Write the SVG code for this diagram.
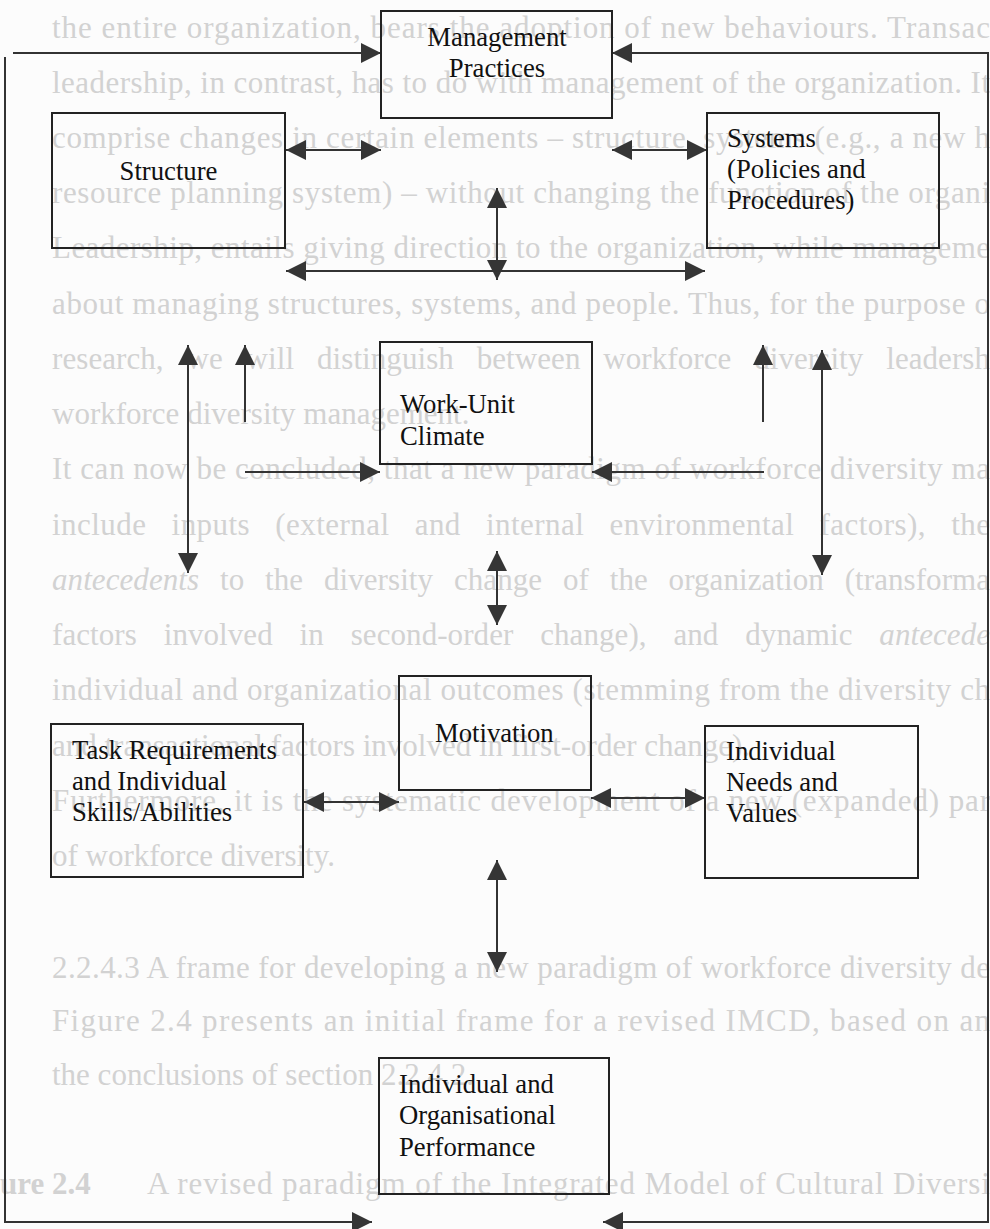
<svg xmlns="http://www.w3.org/2000/svg" width="990" height="1229" viewBox="0 0 990 1229">
<style>
.bg{font-family:"Liberation Serif","Times New Roman",serif;font-size:31px;fill:#d2d2d2}
.bgb{font-weight:bold}
.it{font-style:italic}
.box{fill:none;stroke:#222;stroke-width:2}
.lbl{font-family:"Liberation Serif","Times New Roman",serif;font-size:26.7px;fill:#111}
.c{fill:none;stroke:#333;stroke-width:2}
</style>
<defs>
<marker id="arr" viewBox="0 0 20 20" refX="20" refY="10" markerWidth="20" markerHeight="20" markerUnits="userSpaceOnUse" orient="auto-start-reverse">
<path d="M0,0 L20,10 L0,20 Z" fill="#353535"/>
</marker>
</defs>
<rect x="0" y="0" width="990" height="1229" fill="#fcfcfc"/>
<g id="background-text" class="bg">
<text x="52" y="38" textLength="938" lengthAdjust="spacing">the entire organization, bears the adoption of new behaviours. Transac</text>
<text x="52" y="93" textLength="938" lengthAdjust="spacing">leadership, in contrast, has to do with management of the organization. It</text>
<text x="52" y="148" textLength="938" lengthAdjust="spacing">comprise changes in certain elements – structure, systems (e.g., a new h</text>
<text x="52" y="203" textLength="938" lengthAdjust="spacing">resource planning system) – without changing the function of the organi</text>
<text x="52" y="258" textLength="938" lengthAdjust="spacing">Leadership, entails giving direction to the organization, while manageme</text>
<text x="52" y="314" textLength="938" lengthAdjust="spacing">about managing structures, systems, and people. Thus, for the purpose o</text>
<text x="52" y="369" word-spacing="15" textLength="938" lengthAdjust="spacing">research, we will distinguish between workforce diversity leadersh</text>
<text x="52" y="424">workforce diversity management.</text>
<text x="52" y="479" textLength="938" lengthAdjust="spacing">It can now be concluded, that a new paradigm of workforce diversity ma</text>
<text x="52" y="535" word-spacing="17" textLength="938" lengthAdjust="spacing">include inputs (external and internal environmental factors), the</text>
<text x="52" y="590" word-spacing="13" textLength="938" lengthAdjust="spacing"><tspan class="it">antecedents</tspan> to the diversity change of the organization (transforma</text>
<text x="52" y="645" word-spacing="19" textLength="938" lengthAdjust="spacing">factors involved in second-order change), and dynamic <tspan class="it">antecede</tspan></text>
<text x="52" y="700" textLength="938" lengthAdjust="spacing">individual and organizational outcomes (stemming from the diversity ch</text>
<text x="52" y="756">and transactional factors involved in first-order change).</text>
<text x="52" y="811" textLength="938" lengthAdjust="spacing">Furthermore, it is the systematic development of a new (expanded) par</text>
<text x="52" y="866">of workforce diversity.</text>
<text x="52" y="978" textLength="938" lengthAdjust="spacing">2.2.4.3 A frame for developing a new paradigm of workforce diversity de</text>
<text x="52" y="1031" textLength="938" lengthAdjust="spacing">Figure 2.4 presents an initial frame for a revised IMCD, based on an</text>
<text x="52" y="1085">the conclusions of section 2.2.4.2.</text>
<text x="0" y="1194" class="bgb">ure 2.4</text>
<text x="147" y="1194" textLength="843" lengthAdjust="spacing">A revised paradigm of the Integrated Model of Cultural Diversi</text>
</g>
<g id="connectors">
<path class="c" d="M13,53 L381,53" marker-end="url(#arr)"/>
<path class="c" d="M5,57 L5,1222 L372,1222" marker-end="url(#arr)" stroke-width="2.5"/>
<path class="c" d="M603,1222 L988,1222 L988,53 L612,53" marker-start="url(#arr)" marker-end="url(#arr)" stroke-width="2.5"/>
<path class="c" d="M286,150 L381,150" marker-start="url(#arr)" marker-end="url(#arr)"/>
<path class="c" d="M612,150 L707,150" marker-start="url(#arr)" marker-end="url(#arr)"/>
<path class="c" d="M497,188 L497,280" marker-start="url(#arr)" marker-end="url(#arr)"/>
<path class="c" d="M286,271 L705,271" marker-start="url(#arr)" marker-end="url(#arr)"/>
<path class="c" d="M245,422 L245,345" marker-end="url(#arr)"/>
<path class="c" d="M763,422 L763,345" marker-end="url(#arr)"/>
<path class="c" d="M188,345 L188,573" marker-start="url(#arr)" marker-end="url(#arr)"/>
<path class="c" d="M822,350 L822,575" marker-start="url(#arr)" marker-end="url(#arr)"/>
<path class="c" d="M245,472 L380,472" marker-end="url(#arr)"/>
<path class="c" d="M764,472 L592,472" marker-end="url(#arr)"/>
<path class="c" d="M497,551 L497,625" marker-start="url(#arr)" marker-end="url(#arr)"/>
<path class="c" d="M304,802 L399,802" marker-start="url(#arr)" marker-end="url(#arr)"/>
<path class="c" d="M591,798 L705,798" marker-start="url(#arr)" marker-end="url(#arr)"/>
<path class="c" d="M497,860 L497,972" marker-start="url(#arr)" marker-end="url(#arr)"/>
</g>
<g id="management-practices">
<rect class="box" x="381" y="11" width="231" height="107"/>
<text class="lbl" x="497" y="45.5" text-anchor="middle">Management</text>
<text class="lbl" x="497" y="76.5" text-anchor="middle">Practices</text>
</g>
<g id="structure">
<rect class="box" x="52" y="113" width="233" height="135"/>
<text class="lbl" x="168.5" y="180" text-anchor="middle">Structure</text>
</g>
<g id="systems">
<rect class="box" x="707" y="113" width="232" height="135"/>
<text class="lbl" x="727" y="147">Systems</text>
<text class="lbl" x="727" y="178">(Policies and</text>
<text class="lbl" x="727" y="209">Procedures)</text>
</g>
<g id="work-unit-climate">
<rect class="box" x="380" y="342" width="212" height="122"/>
<text class="lbl" x="400" y="413">Work-Unit</text>
<text class="lbl" x="400" y="445">Climate</text>
</g>
<g id="motivation">
<rect class="box" x="399" y="676" width="192" height="114"/>
<text class="lbl" x="435" y="742">Motivation</text>
</g>
<g id="task-requirements">
<rect class="box" x="51" y="724" width="252" height="153"/>
<text class="lbl" x="72" y="759">Task Requirements</text>
<text class="lbl" x="72" y="790">and Individual</text>
<text class="lbl" x="72" y="821">Skills/Abilities</text>
</g>
<g id="individual-needs">
<rect class="box" x="705" y="726" width="213" height="152"/>
<text class="lbl" x="726" y="760">Individual</text>
<text class="lbl" x="726" y="791">Needs and</text>
<text class="lbl" x="726" y="822">Values</text>
</g>
<g id="performance">
<rect class="box" x="379" y="1058" width="230" height="136"/>
<text class="lbl" x="399" y="1093">Individual and</text>
<text class="lbl" x="399" y="1124">Organisational</text>
<text class="lbl" x="399" y="1156">Performance</text>
</g>
</svg>
